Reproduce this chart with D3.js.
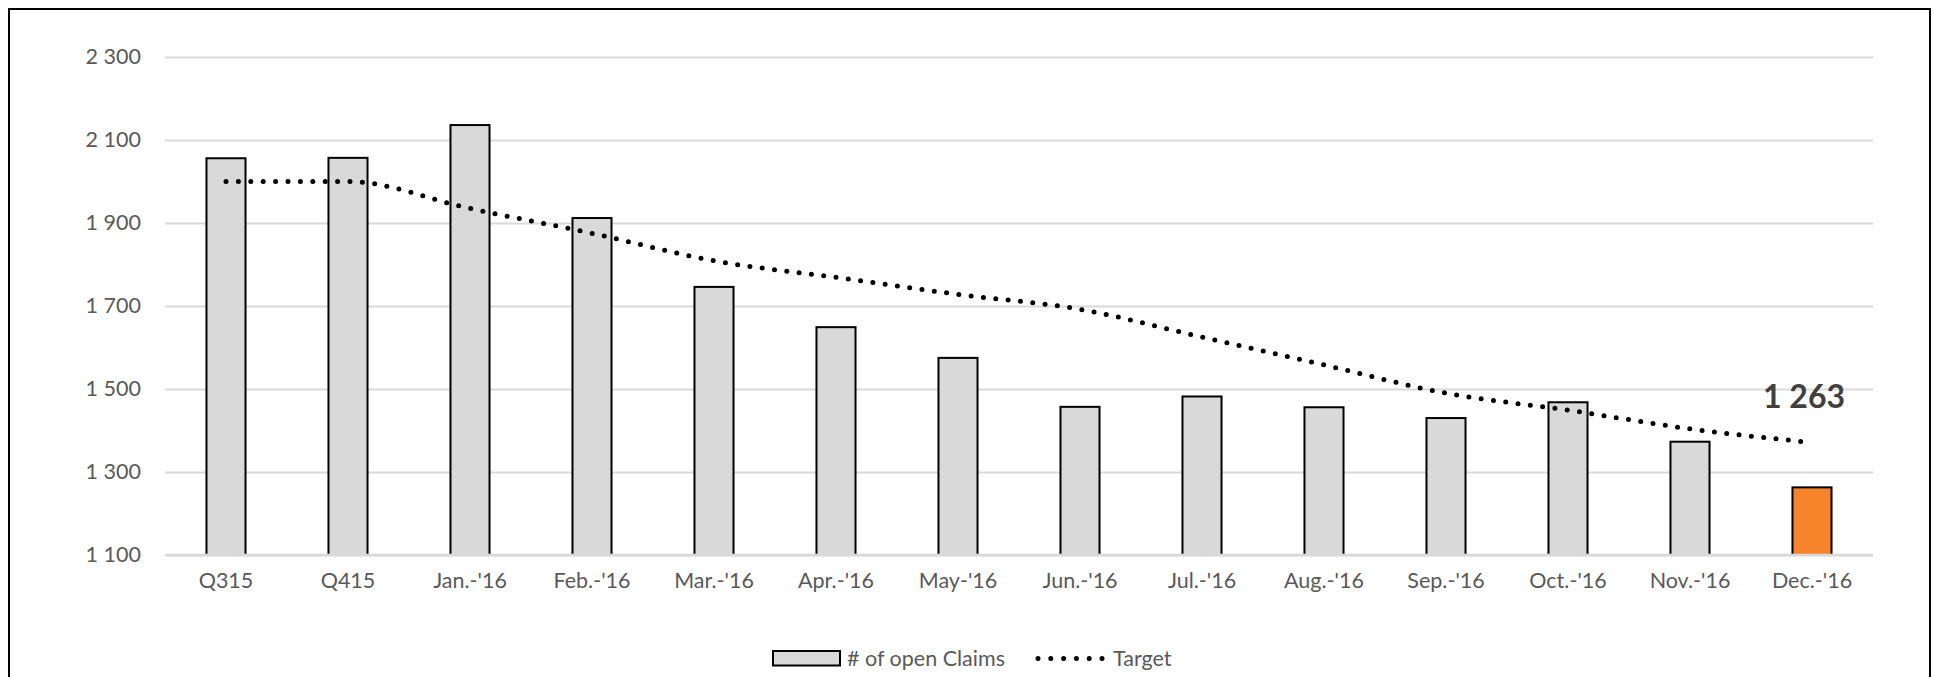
<!DOCTYPE html>
<html>
<head>
<meta charset="utf-8">
<script src="https://cdn.jsdelivr.net/npm/d3@7"></script>
<style>
  body { margin: 0; background: #fff; }
  svg { display: block; font-family: Lato, "Open Sans", sans-serif; }
</style>
</head>
<body>
<div id="chart"></div>
<script>
// categories + values
var months = ["Q315", "Q415", "Jan.-'16", "Feb.-'16", "Mar.-'16", "Apr.-'16", "May-'16",
  "Jun.-'16", "Jul.-'16", "Aug.-'16", "Sep.-'16", "Oct.-'16", "Nov.-'16", "Dec.-'16"];
var openClaims = [2056, 2057, 2136, 1912, 1746, 1649, 1575, 1457, 1482, 1456, 1430, 1468, 1373, 1263];
var target = [2000, 2000, 1935, 1875, 1809, 1769, 1728, 1692, 1625, 1558, 1490, 1449, 1404, 1371];
var yTicks = [1100, 1300, 1500, 1700, 1900, 2100, 2300];

var W = 1934, H = 677;
var margin = { top: 57, right: 61, bottom: 122, left: 165 };
var width = W - margin.left - margin.right,
  height = H - margin.top - margin.bottom;

var svg = d3.select("#chart").append("svg")
  .attr("width", W)
  .attr("height", H);

// outer frame
svg.append("rect")
  .attr("x", 9).attr("y", 9)
  .attr("width", 1921).attr("height", 700)
  .attr("fill", "none").attr("stroke", "#000").attr("stroke-width", 2);

var g = svg.append("g").attr("transform", `translate(${margin.left},${margin.top})`);

var x = d3.scaleBand().domain(months).range([0, width]).paddingInner(0.68).paddingOuter(0.34);
var y = d3.scaleLinear().domain([1100, 2300]).range([height, 0]);

var fmt = function (d) { return d3.format(",")(d).replace(",", " "); };

// grid lines + y labels
var yAxis = g.append("g")
  .call(d3.axisLeft(y).tickValues(yTicks).tickSize(-width).tickPadding(24).tickFormat(fmt));
yAxis.select(".domain").remove();
yAxis.selectAll(".tick line").attr("stroke", "#d9d9d9").attr("stroke-width", 2);
yAxis.selectAll(".tick text").attr("fill", "#595959").style("font-size", "21.5px")
  .style("font-family", "Lato, sans-serif");

// bars
g.selectAll("rect.bar")
  .data(openClaims)
  .join("rect")
  .attr("class", "bar")
  .attr("x", function (d, i) { return x(months[i]); })
  .attr("y", function (d) { return y(d); })
  .attr("width", x.bandwidth())
  .attr("height", function (d) { return height - y(d); })
  .attr("fill", function (d, i) { return i == months.length - 1 ? "#f5842a" : "#d9d9d9"; })
  .attr("stroke", "#000")
  .attr("stroke-width", 2);

// base line over bar bottoms
g.append("line")
  .attr("x1", 0).attr("x2", width)
  .attr("y1", y(1100)).attr("y2", y(1100))
  .attr("stroke", "#d9d9d9").attr("stroke-width", 2.5);

// x labels
var xAxis = g.append("g")
  .attr("transform", `translate(0,${height})`)
  .call(d3.axisBottom(x).tickSize(0).tickPadding(18));
xAxis.select(".domain").remove();
xAxis.selectAll("text").attr("fill", "#595959").style("font-size", "21.5px")
  .style("font-family", "Lato, sans-serif");

// target dotted line
var line = d3.line()
  .x(function (d, i) { return x(months[i]) + x.bandwidth() / 2; })
  .y(function (d) { return y(d); })
  .curve(d3.curveMonotoneX);

g.append("path")
  .datum(target)
  .attr("d", line)
  .attr("fill", "none")
  .attr("stroke", "#000")
  .attr("stroke-width", 5)
  .attr("stroke-linecap", "round")
  .attr("stroke-dasharray", "0 12.4");

// value label for last month
var last = months.length - 1;
g.append("text")
  .attr("x", x(months[last]) + x.bandwidth() / 2 - 8)
  .attr("y", y(target[last]) - 35)
  .attr("text-anchor", "middle")
  .attr("fill", "#404040")
  .style("font-size", "32px")
  .style("font-weight", "bold")
  .text(fmt(openClaims[last]));

// legend
var lg = svg.append("g");
lg.append("rect")
  .attr("x", 773).attr("y", 651).attr("width", 67).attr("height", 14.5)
  .attr("fill", "#d9d9d9").attr("stroke", "#000").attr("stroke-width", 2);
lg.append("text")
  .attr("x", 847).attr("y", 666)
  .attr("fill", "#595959").style("font-size", "21.5px")
  .text("# of open Claims");
lg.append("line")
  .attr("x1", 1038).attr("x2", 1103.5).attr("y1", 658.5).attr("y2", 658.5)
  .attr("stroke", "#000").attr("stroke-width", 5)
  .attr("stroke-linecap", "round").attr("stroke-dasharray", "0 12.8");
lg.append("text")
  .attr("x", 1113).attr("y", 666)
  .attr("fill", "#595959").style("font-size", "21.5px")
  .text("Target");
</script>
</body>
</html>
